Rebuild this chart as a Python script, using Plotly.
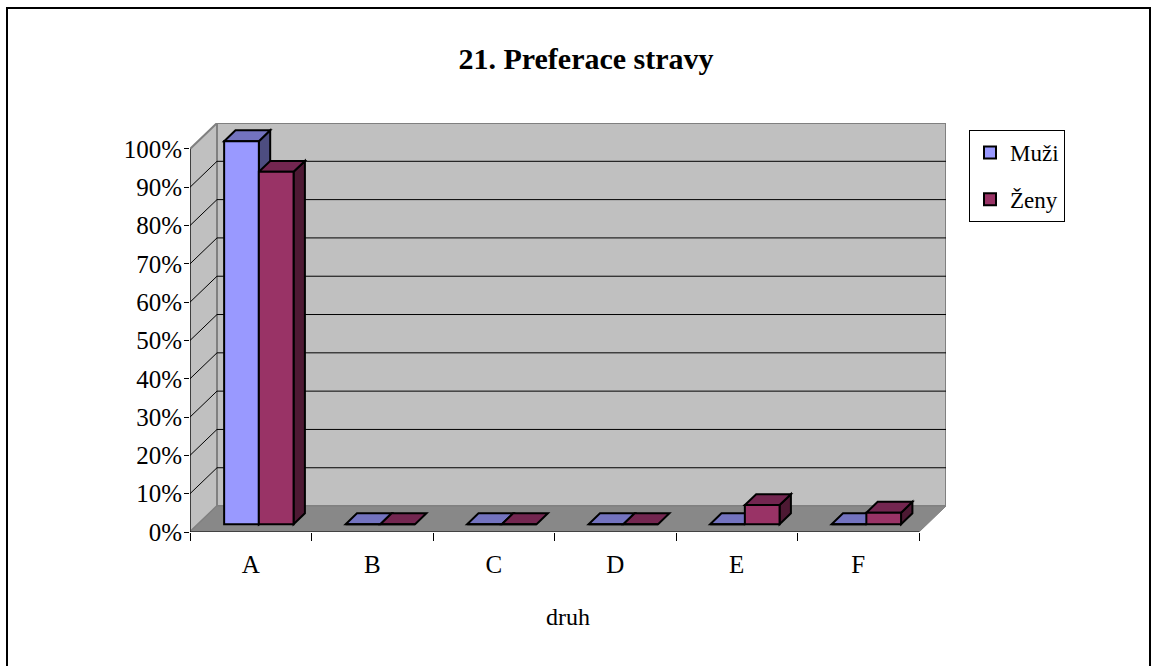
import plotly.graph_objects as go

# ---- data ----
categories = ["A", "B", "C", "D", "E", "F"]
muzi = [100, 0, 0, 0, 0, 0]
zeny = [92, 0, 0, 0, 5, 3]
y_ticks = [0, 10, 20, 30, 40, 50, 60, 70, 80, 90, 100]
y_tick_text = [f"{v}%" for v in y_ticks]

series = [
    ("Muži", muzi, "#9999FF", "#7373BF", "#4D4D80"),
    ("Ženy", zeny, "#993366", "#732650", "#4D1933"),
]

# ---- figure geometry (pixels) ----
W, H = 1157, 666
L, R, T, B = 190, 946, 123, 532          # plot area
FONT = "Liberation Serif"

n = len(categories)
PX_PER_CAT = 121.5
PX_PER_PCT = 3.84
DX = 27 / PX_PER_CAT                      # wall depth in x units
DY = 26 / PX_PER_PCT                      # wall depth in y units
X_MAX = n + DX
Y_MAX = 100 + DY

BAR_W = 1 / 3.5                           # gap width 150 %, two series
F0, F1 = 0.30, 0.72                       # bar front / back depth fractions


def xp(px):
    return (px - L) / (R - L)


def yp(py):
    return (B - py) / (B - T)


def poly(pts):
    return "M " + " L ".join(f"{x},{y}" for x, y in pts) + " Z"


shapes = []

# walls and floor
shapes.append(dict(type="path", xref="x", yref="y", layer="below",
                   path=poly([(DX, DY), (n + DX, DY), (n + DX, 100 + DY), (DX, 100 + DY)]),
                   fillcolor="#C0C0C0", line=dict(color="#808080", width=2)))
shapes.append(dict(type="path", xref="x", yref="y", layer="below",
                   path=poly([(0, 0), (DX, DY), (DX, 100 + DY), (0, 100)]),
                   fillcolor="#C0C0C0", line=dict(color="#808080", width=2)))
shapes.append(dict(type="path", xref="x", yref="y", layer="below",
                   path=poly([(0, 0), (n, 0), (n + DX, DY), (DX, DY)]),
                   fillcolor="#888888", line=dict(color="#808080", width=1)))

# gridlines on the side and back walls
for v in y_ticks[1:-1]:
    shapes.append(dict(type="line", xref="x", yref="y", layer="below",
                       x0=0, y0=v, x1=DX, y1=v + DY, line=dict(color="black", width=1)))
    shapes.append(dict(type="line", xref="x", yref="y", layer="below",
                       x0=DX, y0=v + DY, x1=n + DX, y1=v + DY, line=dict(color="black", width=1)))

# axis lines
shapes.append(dict(type="line", xref="x", yref="y", layer="above",
                   x0=0, y0=0, x1=0, y1=100, line=dict(color="black", width=1)))
shapes.append(dict(type="line", xref="x", yref="y", layer="above",
                   x0=0, y0=0, x1=n, y1=0, line=dict(color="black", width=1)))

# bars: front faces as traces, top and side faces as shapes
traces = []
bdx, bdy = (F1 - F0) * DX, (F1 - F0) * DY
base = F0 * DY
for s_idx, (name, vals, c_front, c_top, c_side) in enumerate(series):
    xs = []
    for i, v in enumerate(vals):
        x0 = i + 0.5 - BAR_W + s_idx * BAR_W + F0 * DX
        x1 = x0 + BAR_W
        xs.append(x0 + BAR_W / 2)
        top = base + v
        if v > 0:
            shapes.append(dict(type="path", xref="x", yref="y", layer="below",
                               path=poly([(x1, base), (x1 + bdx, base + bdy),
                                          (x1 + bdx, top + bdy), (x1, top)]),
                               fillcolor=c_side, line=dict(color="black", width=2)))
        shapes.append(dict(type="path", xref="x", yref="y", layer="below",
                           path=poly([(x0, top), (x1, top), (x1 + bdx, top + bdy), (x0 + bdx, top + bdy)]),
                           fillcolor=c_top, line=dict(color="black", width=2)))
    traces.append(go.Bar(
        name=name, x=xs, y=vals, base=[base] * n, width=BAR_W,
        marker=dict(color=c_front, line=dict(color="black", width=2)),
        legendgroup=name, hoverinfo="skip",
    ))

# outer chart border
shapes.append(dict(type="rect", xref="paper", yref="paper", layer="above",
                   x0=xp(7), y0=yp(672), x1=xp(1150), y1=yp(8),
                   line=dict(color="black", width=2), fillcolor="rgba(0,0,0,0)"))

fig = go.Figure(traces)
fig.update_layout(
    width=W, height=H,
    margin=dict(l=L, r=W - R, t=T, b=H - B, pad=0),
    paper_bgcolor="white", plot_bgcolor="white",
    barmode="overlay", hovermode=False,
    font=dict(family=FONT, color="black", size=24),
    title=dict(text="<b>21. Preferace stravy</b>", x=586 / W, xref="container", xanchor="center",
               y=1 - 58 / H, yref="container", yanchor="middle",
               font=dict(family=FONT, size=30, color="black")),
    xaxis=dict(range=[0, X_MAX], tickvals=[i + 0.5 for i in range(n)], ticktext=categories,
               ticks="", showgrid=False, zeroline=False, showline=False,
               tickfont=dict(family=FONT, size=25, color="black"),
               ticklabelstandoff=15,
               minor=dict(tickvals=list(range(n + 1)), ticks="outside", ticklen=8,
                          tickcolor="black", tickwidth=1, showgrid=False),
               title=dict(text="druh", standoff=31, font=dict(family=FONT, size=24, color="black"))),
    yaxis=dict(range=[0, Y_MAX], tickvals=y_ticks, ticktext=y_tick_text,
               ticks="outside", ticklen=5, tickcolor="black", tickwidth=1,
               showgrid=False, zeroline=False, showline=False,
               ticklabelstandoff=-3,
               tickfont=dict(family=FONT, size=25, color="black")),
    legend=dict(x=xp(969), y=yp(130), xanchor="left", yanchor="top",
                bordercolor="black", borderwidth=1, bgcolor="white",
                tracegroupgap=14, itemclick=False,
                font=dict(family=FONT, size=23, color="black")),
    shapes=shapes,
)

fig.write_html("out.html")
